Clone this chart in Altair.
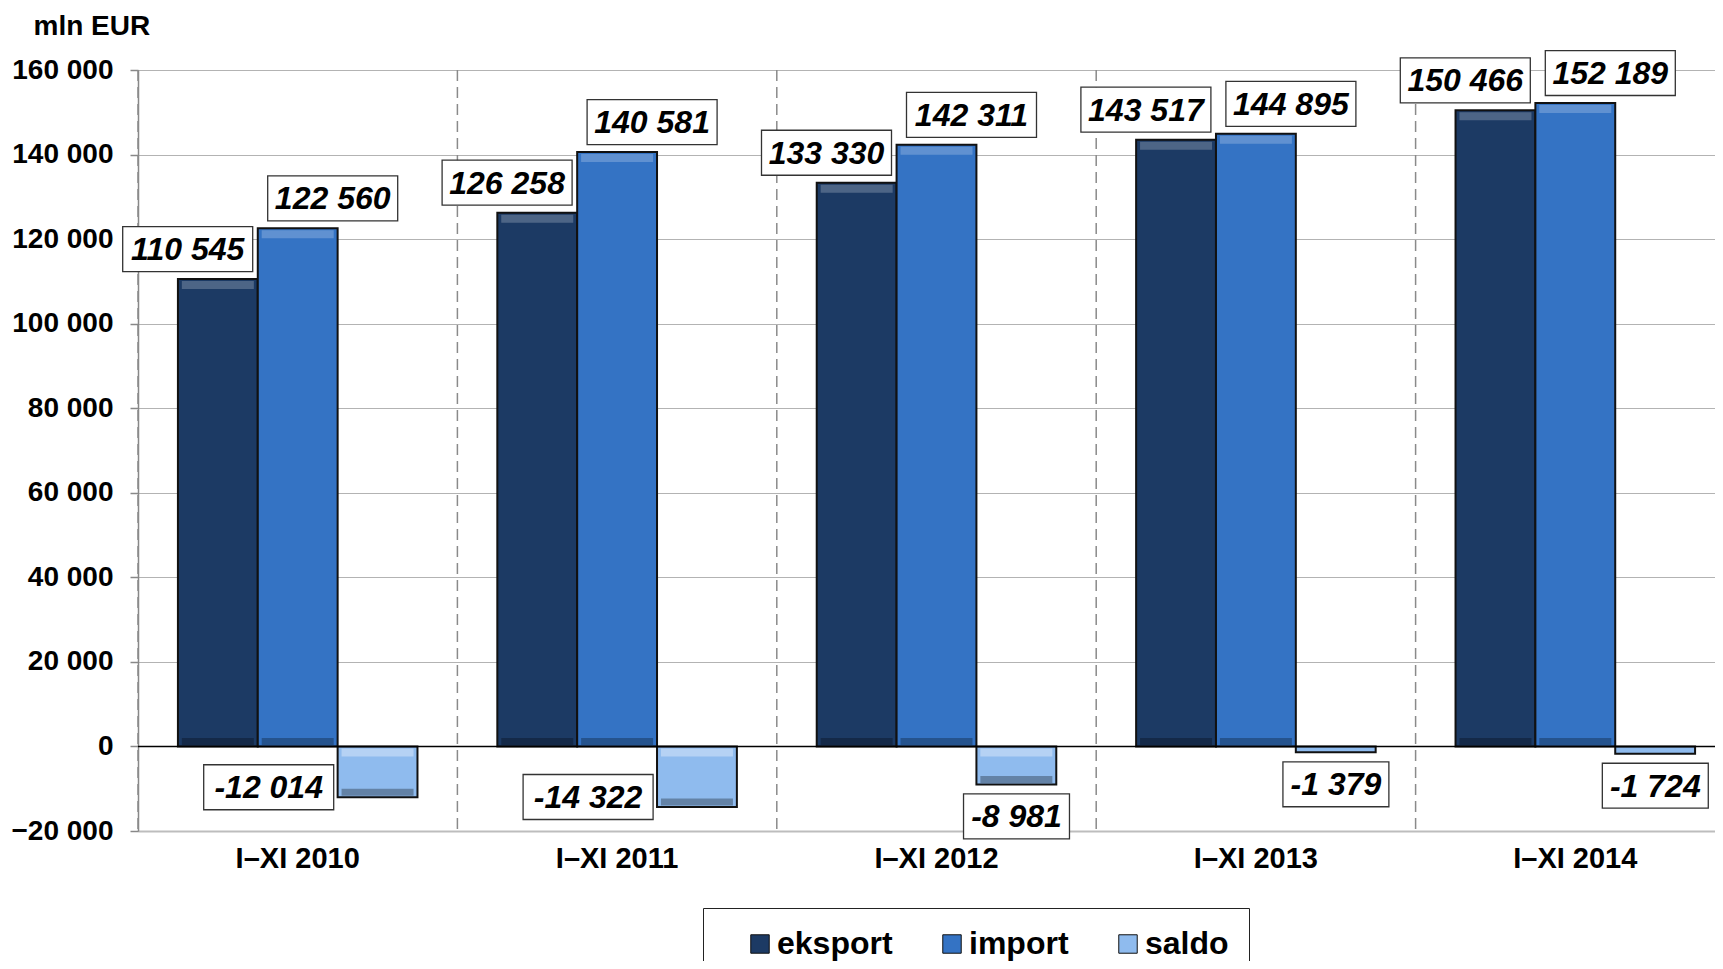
import altair as alt
import pandas as pd

categories = ["I–XI 2010", "I–XI 2011", "I–XI 2012", "I–XI 2013", "I–XI 2014"]
series = ["eksport", "import", "saldo"]
eksport = [110545, 126258, 133330, 143517, 150466]
import_ = [122560, 140581, 142311, 144895, 152189]
saldo = [-12014, -14322, -8981, -1379, -1724]
colors = ["#1c3a64", "#3473c4", "#8fbbee"]
y_ticks = list(range(-20000, 160001, 20000))

rows = []
for s, vals in zip(series, [eksport, import_, saldo]):
    for c, v in zip(categories, vals):
        rows.append({"cat": c, "series": s, "value": v,
                     "label": f"{v:,}".replace(",", " ")})
df = pd.DataFrame(rows)

FONT = "Liberation Sans"
W, H = 1577, 761
X_RANGE = [0, 1597]

yscale = alt.Scale(domain=[-20000, 160000], nice=False, zero=False)
xscale = alt.Scale(range=X_RANGE, paddingInner=0, paddingOuter=0)

x_axis = alt.Axis(title=None, labelFontSize=29, labelFontWeight="bold", labelColor="black",
                  ticks=False, domain=True, domainColor="#bdbdbd", domainWidth=2,
                  labelPadding=13, grid=False, labelAngle=0, labelFont=FONT)
y_axis = alt.Axis(values=y_ticks, labelExpr="replace(format(datum.value, ',d'), ',', ' ')",
                  grid=True, gridColor="#b3b3b3", gridWidth=1.2,
                  tickSize=8, tickColor="#888888", tickWidth=1.5,
                  domainColor="#888888", domainWidth=1.5,
                  labelFontSize=28, labelFontWeight="bold", labelColor="black", labelPadding=17,
                  labelFont=FONT,
                  title="mln EUR", titleAngle=0, titleAlign="left", titleBaseline="alphabetic",
                  titleX=-105, titleY=-36, titleFontSize=28, titleFontWeight="bold",
                  titleColor="black", titleFont=FONT)

X = alt.X("cat:N", sort=categories, scale=xscale, axis=x_axis)
XOFF = alt.XOffset("series:N", sort=series, scale=alt.Scale(paddingInner=0, paddingOuter=0.5))
Y = alt.Y("value:Q", scale=yscale, axis=y_axis)
YZ = alt.Y("zero:Q", scale=yscale, axis=y_axis)

base = alt.Chart(df)

separators = alt.Chart(pd.DataFrame({"cat": categories})).mark_rule(
    strokeDash=[11, 6], color="#8a8a8a", strokeWidth=1.5
).encode(x=alt.X("cat:N", sort=categories, bandPosition=0, scale=xscale, axis=x_axis))

bars = base.mark_bar(stroke="#111111", strokeWidth=2).encode(
    x=X, xOffset=XOFF, y=Y,
    color=alt.Color("series:N", sort=series,
                    scale=alt.Scale(domain=series, range=colors),
                    legend=alt.Legend(orient="none", legendX=565, legendY=838,
                                      direction="horizontal", strokeColor="#222222",
                                      padding=20, symbolType="square", symbolSize=340,
                                      symbolStrokeColor="#111111", symbolStrokeWidth=1,
                                      labelFontSize=32, labelFontWeight="bold",
                                      labelColor="black", labelFont=FONT, labelOffset=1,
                                      columnPadding=43, title=" ", titleOrient="left",
                                      titlePadding=21, titleFontSize=4)),
)

# bevel highlights / shades
top_hi = base.transform_filter("datum.value > 0").mark_tick(
    color="white", opacity=0.22, thickness=8, size=72, yOffset=6
).encode(x=X, xOffset=XOFF, y=Y)
bot_sh = base.transform_filter("datum.value > 0").transform_calculate(zero="0").mark_tick(
    color="black", opacity=0.28, thickness=7, size=72, yOffset=-5
).encode(x=X, xOffset=XOFF, y=YZ)
neg_hi = base.transform_filter("datum.value < -5000").transform_calculate(zero="0").mark_tick(
    color="white", opacity=0.35, thickness=8, size=72, yOffset=6
).encode(x=X, xOffset=XOFF, y=YZ)
neg_sh = base.transform_filter("datum.value < -5000").mark_tick(
    color="black", opacity=0.3, thickness=7, size=72, yOffset=-5
).encode(x=X, xOffset=XOFF, y=Y)

zero = alt.Chart(pd.DataFrame({"zero": [0]})).mark_rule(color="black", strokeWidth=1.5).encode(
    y=alt.Y("zero:Q", scale=yscale)
)

LONG = "M-1,-0.346L1,-0.346L1,0.346L-1,0.346Z"
SHORT = "M-0.815,-0.346L0.815,-0.346L0.815,0.346L-0.815,0.346Z"


def labels(filter_expr, dx, dy):
    sel = base.transform_filter(filter_expr)
    box = sel.mark_point(size=16900, filled=True, fill="white", stroke="#333333",
                         strokeWidth=1.3, opacity=1, xOffset=dx, yOffset=dy).encode(
        shape=alt.condition("length(datum.label) > 6", alt.value(LONG), alt.value(SHORT)),
        x=X, y=Y)
    txt = sel.mark_text(fontSize=32, fontWeight="bold", fontStyle="italic", font=FONT,
                        color="black", align="center", baseline="middle",
                        xOffset=dx, yOffset=dy + 1).encode(text="label:N", x=X, y=Y)
    return [box, txt]


layers = [separators, bars, top_hi, bot_sh, neg_hi, neg_sh, zero]
layers += labels("datum.series == 'eksport'", -110, -30)
layers += labels("datum.series == 'import'", 35, -30)
layers += labels("datum.series == 'saldo' && datum.value < -10000", -29, -10)
layers += labels("datum.series == 'saldo' && datum.value >= -10000", 80, 32)

chart = alt.layer(*layers).properties(
    width=W, height=H,
    autosize=alt.AutoSizeParams(type="none"),
    padding={"left": 130, "top": 62, "right": 0, "bottom": 130},
).configure_view(stroke=None).configure(font=FONT)

chart.save("out.html", embed_options={"renderer": "svg", "actions": False})
